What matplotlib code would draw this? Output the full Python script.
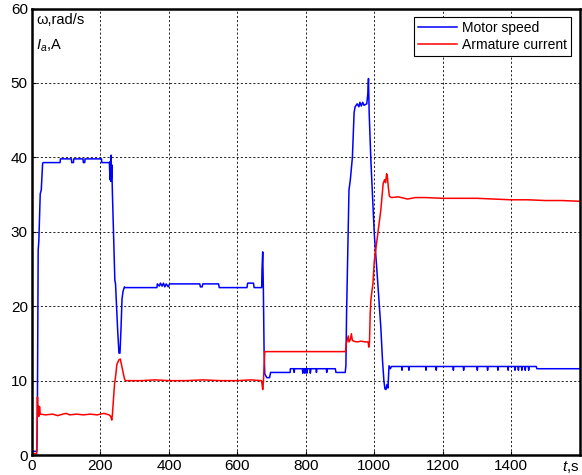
import matplotlib
matplotlib.use('Agg')
import matplotlib.pyplot as plt

plt.rcParams['font.family'] = ['Liberation Sans', 'DejaVu Sans']
plt.rcParams['mathtext.fontset'] = 'custom'
plt.rcParams['mathtext.rm'] = 'Liberation Sans'
plt.rcParams['mathtext.it'] = 'Liberation Sans:italic'

# motor speed, rad/s
speed_t = [0, 14, 15, 16, 18, 20, 24, 27, 31, 33, 82, 83, 115, 116, 121, 122, 149, 150, 154, 155,
           203, 204, 226, 228, 229, 230, 231, 232, 233, 235, 238, 242, 244, 246, 250, 254, 257, 260,
           263, 266, 270, 272, 365, 366, 372, 375, 380, 384, 388, 392, 398, 402, 490, 492, 497, 499,
           545, 547, 628, 630, 647, 649, 671, 672, 674, 676, 678, 680, 686, 694, 697, 754, 755, 765,
           766, 767, 790, 791, 792, 796, 797, 798, 802, 803, 805, 812, 813, 815, 830, 831, 832, 860,
           861, 862, 886, 888, 915, 917, 919,
           926, 930, 936, 941, 944, 950, 955, 958, 962, 966, 970, 978, 981, 983, 985, 988, 990, 1000,
           1009, 1019, 1024, 1028, 1031, 1034, 1037, 1040, 1043, 1047, 1050, 1080, 1081, 1082, 1100,
           1101, 1102, 1150, 1151, 1152, 1180, 1181, 1182, 1230, 1231, 1232, 1260, 1261, 1262, 1300,
           1301, 1302, 1330, 1331, 1332, 1360, 1361, 1362, 1390, 1391, 1392, 1410, 1411, 1412, 1420,
           1421, 1422, 1430, 1431, 1432, 1440, 1441, 1442, 1450, 1451, 1452, 1473, 1475, 1600]
speed = [0.5, 0.5, 3, 8.6, 27.5, 28.8, 35.1, 35.6, 39.2, 39.3, 39.3, 39.8, 39.8, 39.3, 39.3, 39.8, 39.8, 39.3, 39.3, 39.8,
         39.8, 39.3, 39.3, 37.0, 39.5, 36.8, 40.3, 37.2, 39.0, 35, 30, 23.5, 23.0, 21, 17, 13.7, 13.7, 17,
         21, 22, 22.6, 22.5, 22.5, 23.0, 22.7, 23.1, 22.7, 23.1, 22.6, 23.0, 22.6, 23.0, 23.0, 22.6, 22.6, 23.0,
         23.0, 22.5, 22.5, 23.1, 23.1, 22.5, 22.5, 25, 27.3, 22, 14, 10.9, 10.4, 10.4, 11.1, 11.1, 11.6, 11.6,
         11.1, 11.6, 11.6, 11.0, 11.6, 11.6, 11.0, 11.6, 11.6, 11.0, 11.6, 11.6, 11.0, 11.6, 11.6, 11.1, 11.6, 11.6,
         11.1, 11.6, 11.6, 11.1, 11.1, 12, 19,
         35.6, 37, 40, 46, 46.8, 47.2, 46.8, 47.4, 46.9, 47.4, 47.0, 47.2, 48.5, 50.6, 46, 42, 39.6, 29.7,
         23.9, 17.2, 12.7, 10, 8.9, 8.8, 9.5, 9.0, 12.0, 11.6, 11.9, 11.9, 11.4, 11.9, 11.9,
         11.4, 11.9, 11.9, 11.4, 11.9, 11.9, 11.4, 11.9, 11.9, 11.4, 11.9, 11.9, 11.4, 11.9, 11.9,
         11.4, 11.9, 11.9, 11.4, 11.9, 11.9, 11.4, 11.9, 11.9, 11.4, 11.9, 11.9, 11.4, 11.9, 11.9,
         11.4, 11.9, 11.9, 11.4, 11.9, 11.9, 11.4, 11.9, 11.9, 11.4, 11.9, 11.9, 11.6, 11.6]

# armature current, A
current_t = [0, 14, 15, 16, 17, 19, 20, 22, 24, 40, 60, 75, 90, 100, 110, 130, 150, 170, 190, 210,
             225, 230, 233, 235, 238, 241, 244, 248, 254, 258, 262, 267, 271, 274, 320, 360, 400, 450,
             500, 550, 600, 640, 670, 672, 674, 676, 678, 680, 916, 918, 921, 924, 926, 930, 933, 936,
             940, 950, 960, 975, 982, 984, 986, 988, 990, 993, 996, 1000, 1009, 1019, 1024, 1026, 1030,
             1033, 1036, 1038, 1041, 1044, 1050, 1070, 1097, 1120, 1150, 1200, 1250, 1300, 1350, 1400,
             1450, 1500, 1550, 1600]
current = [0.2, 0.2, 4, 7.8, 5.5, 6.6, 5.2, 6.5, 5.5, 5.4, 5.5, 5.3, 5.5, 5.6, 5.4, 5.5, 5.4, 5.5, 5.4, 5.6,
           5.4, 5.2, 4.7, 5.5, 7.5, 9.5, 10.5, 12.2, 12.8, 12.9, 12.0, 10.9, 10.1, 10.0, 10.0, 10.1, 10.0, 10.0,
           10.1, 10.0, 10.0, 10.1, 10.0, 9.6, 8.8, 9.8, 12, 13.9, 13.9, 15.0, 15.4, 16.0, 15.2, 15.5, 16.3, 15.4,
           15.3, 15.2, 15.3, 15.2, 15.2, 14.5, 15.2, 19, 20.8, 22, 23, 26.1, 29.3, 32.9, 35.5, 36.5, 37.0,
           36.6, 37.8, 37.5, 36, 34.8, 34.6, 34.7, 34.4, 34.6, 34.6, 34.5, 34.5, 34.5, 34.4, 34.3,
           34.3, 34.2, 34.2, 34.1]

x_ticks = [0, 200, 400, 600, 800, 1000, 1200, 1400, 1600]
x_labels = ['0', '200', '400', '600', '800', '1000', '1200', '1400', '$t$,s']
y_ticks = [0, 10, 20, 30, 40, 50, 60]

fig = plt.figure(figsize=(5.82, 4.75), dpi=100)
ax = fig.add_axes([0.055, 0.042, 0.941, 0.94])

ax.plot(speed_t, speed, color='#0000ff', lw=1.1, label='Motor speed')
ax.plot(current_t, current, color='#ff0000', lw=1.1, label='Armature current')

ax.set_xlim(0, 1600)
ax.set_ylim(0, 60)
ax.set_xticks(x_ticks)
ax.set_xticklabels(x_labels)
ax.get_xticklabels()[-1].set_ha('right')
ax.set_yticks(y_ticks)
ax.tick_params(direction='in', length=3, labelsize=11, width=0.8, pad=3)
ax.grid(True, color='black', linestyle=(0, (2.5, 2.5)), linewidth=0.6)
for s in ax.spines.values():
    s.set_linewidth(1.8)

ax.text(0.008, 0.99, '\u03c9,rad/s', transform=ax.transAxes, ha='left', va='top', fontsize=10.5)
ax.text(0.008, 0.935, '$I_a$,A', transform=ax.transAxes, ha='left', va='top', fontsize=10.5)

leg = ax.legend(loc='upper right', fontsize=10, fancybox=False, framealpha=1,
                edgecolor='black', borderpad=0.3, handlelength=2.8, handletextpad=0.4,
                labelspacing=0.2, borderaxespad=0.6)
leg.get_frame().set_linewidth(0.8)

fig.savefig('out.png', dpi=100)
